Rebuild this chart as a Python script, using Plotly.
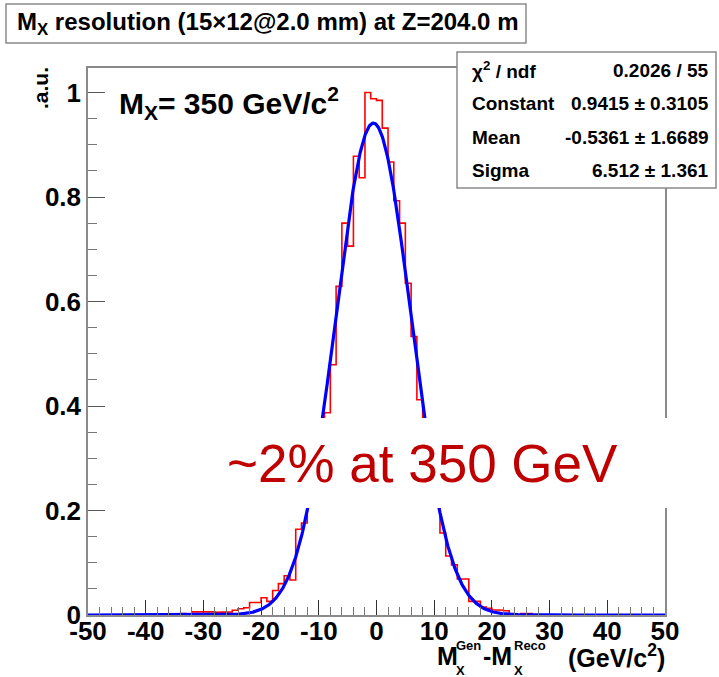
import numpy as np
import plotly.graph_objects as go

# ---------------- data ----------------
first_bin_low = -35          # left edge of first listed bin (bins are 1 GeV/c^2 wide)
bin_width = 1.0
counts = [0.002, 0.003, 0.002, 0.006, 0.006, 0.007, 0.006, 0.005, 0.005, 0.006,
          0.009, 0.012, 0.014, 0.024, 0.024, 0.033, 0.026, 0.047, 0.060, 0.075,
          0.067, 0.164, 0.176, 0.215, 0.280, 0.330, 0.387, 0.479, 0.629, 0.750,
          0.706, 0.878, 0.837, 1.000, 0.988, 0.985, 0.932, 0.867, 0.793, 0.750,
          0.635, 0.533, 0.412, 0.360, 0.280, 0.220, 0.157, 0.113, 0.096, 0.069,
          0.069, 0.026, 0.026, 0.015, 0.013, 0.010, 0.009, 0.008, 0.002, 0.000,
          0.003, 0.003]

fit_constant = 0.9415
fit_mean = -0.5361
fit_sigma = 6.512

x_tick_vals = [-50, -40, -30, -20, -10, 0, 10, 20, 30, 40, 50]
x_tick_text = ["-50", "-40", "-30", "-20", "-10", "0", "10", "20", "30", "40", "50"]

stats_labels = ["χ<sup>2</sup> / ndf", "Constant", "Mean", "Sigma"]
stats_values = ["0.2026 / 55", "0.9415 ± 0.3105", "-0.5361 ± 1.6689", "6.512 ± 1.361"]

# ---------------- build traces ----------------
xs, ys = [first_bin_low], [0.0]
for i, c in enumerate(counts):
    lo = first_bin_low + i * bin_width
    xs += [lo, lo + bin_width]
    ys += [c, c]
xs.append(first_bin_low + len(counts) * bin_width)
ys.append(0.0)

fx = np.linspace(-50, 50, 1001)
fy = fit_constant * np.exp(-0.5 * ((fx - fit_mean) / fit_sigma) ** 2)

fig = go.Figure()
fig.add_trace(go.Scatter(x=xs, y=ys, mode="lines",
                         line=dict(color="#ff0000", width=1.6), hoverinfo="skip"))
fig.add_trace(go.Scatter(x=fx, y=fy, mode="lines",
                         line=dict(color="#0000ff", width=3.2), hoverinfo="skip"))

# pixel -> paper helpers (plot area 88..665 x 68..615)
L, R, T, B = 88, 665, 68, 615
def PX(p):
    return (p - L) / (R - L)
def PY(p):
    return (B - p) / (B - T)

FONT = "Liberation Sans"
BOX = "#8a8a8a"

shapes = [
    # title box
    dict(type="rect", xref="paper", yref="paper", x0=PX(6), x1=PX(526), y0=PY(43), y1=PY(4),
         fillcolor="white", line=dict(color=BOX, width=1.5), layer="above"),
    # stats box
    dict(type="rect", xref="paper", yref="paper", x0=PX(457), x1=PX(716), y0=PY(188), y1=PY(52),
         fillcolor="white", line=dict(color=BOX, width=1.5), layer="above"),
    # white overlay behind the big text
    dict(type="rect", xref="paper", yref="paper", x0=PX(214), x1=PX(730), y0=PY(508), y1=PY(418),
         fillcolor="white", line=dict(width=0), layer="above"),
]

ann = []
ann.append(dict(text="M<sub>X</sub> resolution (15×12@2.0 mm) at Z=204.0 m",
                x=PX(267.5), y=PY(23.5), xanchor="center", yanchor="middle",
                font=dict(family=FONT, size=24, color="black", weight="bold")))
ann.append(dict(text="M<sub>X</sub>= 350 GeV/c<sup>2</sup>",
                x=PX(117), y=PY(103), xanchor="left", yanchor="middle",
                font=dict(family=FONT, size=30, color="black", weight="bold")))
ann.append(dict(text=".a.u.", x=PX(40), y=PY(88), xanchor="center", yanchor="middle",
                textangle=-90, font=dict(family=FONT, size=21, color="black", weight="bold")))
row_y = [70, 103.5, 137, 170.5]
for lab, val, yy in zip(stats_labels, stats_values, row_y):
    ann.append(dict(text=lab, x=PX(470), y=PY(yy), xanchor="left", yanchor="middle",
                    font=dict(family=FONT, size=19, color="black", weight="bold")))
    ann.append(dict(text=val, x=PX(711), y=PY(yy), xanchor="right", yanchor="middle",
                    font=dict(family=FONT, size=19, color="black", weight="bold")))
ann.append(dict(text="~2% at 350 GeV", x=PX(225), y=PY(463), xanchor="left", yanchor="middle",
                font=dict(family=FONT, size=53, color="#c00000")))

# x-axis title built from pieces (stacked super/subscripts)
tf = dict(family=FONT, size=25, color="black", weight="bold")
sf = dict(family=FONT, size=13, color="black", weight="bold")
ann.append(dict(text="M", x=PX(435), y=PY(656), xanchor="left", yanchor="middle", font=tf))
ann.append(dict(text="Gen", x=PX(454), y=PY(645), xanchor="left", yanchor="middle", font=sf))
ann.append(dict(text="X", x=PX(454), y=PY(670), xanchor="left", yanchor="middle", font=sf))
ann.append(dict(text="-M", x=PX(481), y=PY(656), xanchor="left", yanchor="middle", font=tf))
ann.append(dict(text="Reco", x=PX(512), y=PY(645), xanchor="left", yanchor="middle", font=sf))
ann.append(dict(text="X", x=PX(512), y=PY(670), xanchor="left", yanchor="middle", font=sf))
ann.append(dict(text="(GeV/c<sup>2</sup>)", x=PX(667), y=PY(656), xanchor="right", yanchor="middle", font=tf))

for a in ann:
    a.update(xref="paper", yref="paper", showarrow=False)

tickfont = dict(family=FONT, size=26, color="black", weight="bold")
fig.update_layout(
    width=719, height=677,
    margin=dict(l=L, r=719 - R, t=T, b=677 - B),
    paper_bgcolor="white", plot_bgcolor="white",
    showlegend=False,
    shapes=shapes, annotations=ann,
    xaxis=dict(range=[-50, 50], tickmode="array", tickvals=x_tick_vals, ticktext=x_tick_text,
               ticks="inside", ticklen=15, tickwidth=1.3, tickcolor="#333",
               showline=True, linecolor=BOX, linewidth=1.5, mirror=True,
               showgrid=False, zeroline=False, tickfont=tickfont, ticklabelstandoff=-8,
               minor=dict(dtick=2, tick0=0, ticks="inside", ticklen=8, tickwidth=1.2,
                          tickcolor="#777", showgrid=False)),
    yaxis=dict(range=[0, 1.047], dtick=0.2, tick0=0,
               ticks="inside", ticklen=17, tickwidth=1.3, tickcolor="#555",
               showline=True, linecolor=BOX, linewidth=1.5, mirror=True,
               showgrid=False, zeroline=False, tickfont=tickfont,
               minor=dict(dtick=0.05, tick0=0, ticks="inside", ticklen=9, tickwidth=1.2,
                          tickcolor="#777", showgrid=False)),
)

fig.write_html("out.html")
